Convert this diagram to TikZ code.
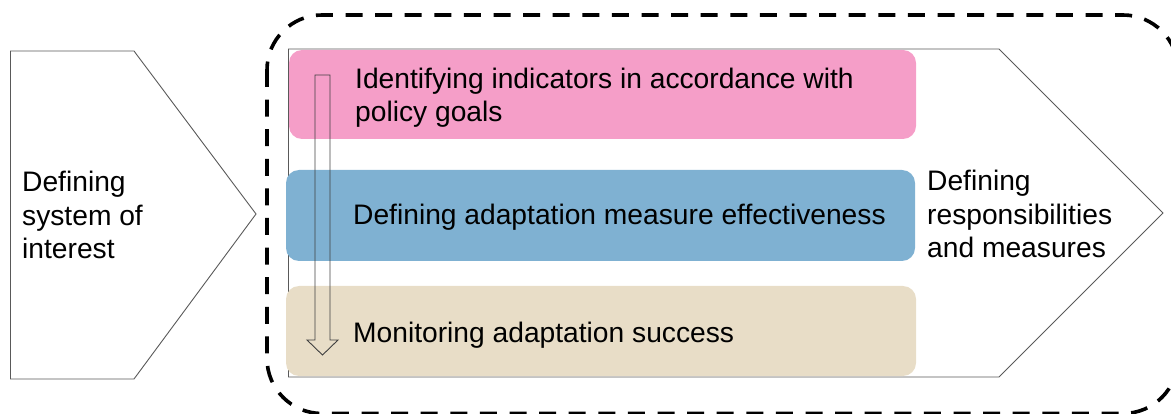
\documentclass[tikz,border=0pt]{standalone}
\usepackage{fontspec}
\setmainfont{Liberation Sans}
\begin{document}
\begin{tikzpicture}[x=1pt,y=-1pt,
  outline/.style={draw=black!65, line width=0.9pt},
  band/.style={rectangle, rounded corners=13pt, draw=none, minimum width=#1, inner sep=0pt},
  label/.style={inner sep=0pt, anchor=base west, align=left, font=\fontsize{28.2}{33.5}\selectfont},
]
\definecolor{pinkband}{RGB}{245,158,200}
\definecolor{blueband}{RGB}{127,177,210}
\definecolor{beigeband}{RGB}{232,221,199}
\useasboundingbox (0,0) rectangle (1171,414);
\begin{scope}
\clip (0,0) rectangle (1171,414);

% left chevron
\draw[outline] (10.5,51) -- (134,51) -- (256,214) -- (134,379) -- (10.5,379) -- cycle;
% multi-line labels are placed by the baseline of their last line
\node[label] (sys) at (22,259) {Defining\\system of\\interest};

% right chevron
\draw[outline] (288.5,49) -- (999,49) -- (1163,213) -- (999,377) -- (288.5,377) -- cycle;

% coloured bands
\node[band=627pt, minimum height=89pt, fill=pinkband] (b1) at (602.5,94.5) {};
\node[band=629pt, minimum height=91pt, fill=blueband] (b2) at (600.5,215.5) {};
\node[band=630pt, minimum height=90pt, fill=beigeband] (b3) at (601,331) {};

\node[label] (t1) at (355,122) {Identifying indicators in accordance with\\policy goals};
\node[label] (t2) at (353,225) {Defining adaptation measure effectiveness};
\node[label] (t3) at (353,342) {Monitoring adaptation success};
\node[label] (resp) at (927,258) {Defining\\responsibilities\\and measures};

% hollow downward arrow
\draw[draw=black!75, line width=0.9pt, line join=miter]
  (315,75) -- (330,75) -- (330,340) -- (338,340) -- (322.5,355) -- (307,340) -- (315,340) -- cycle;

% dashed frame
\draw[line width=3.6pt, dash pattern=on 17pt off 12.6pt, rounded corners=55pt]
  (267,15) rectangle (1178,413.5);
\end{scope}
\end{tikzpicture}
\end{document}
